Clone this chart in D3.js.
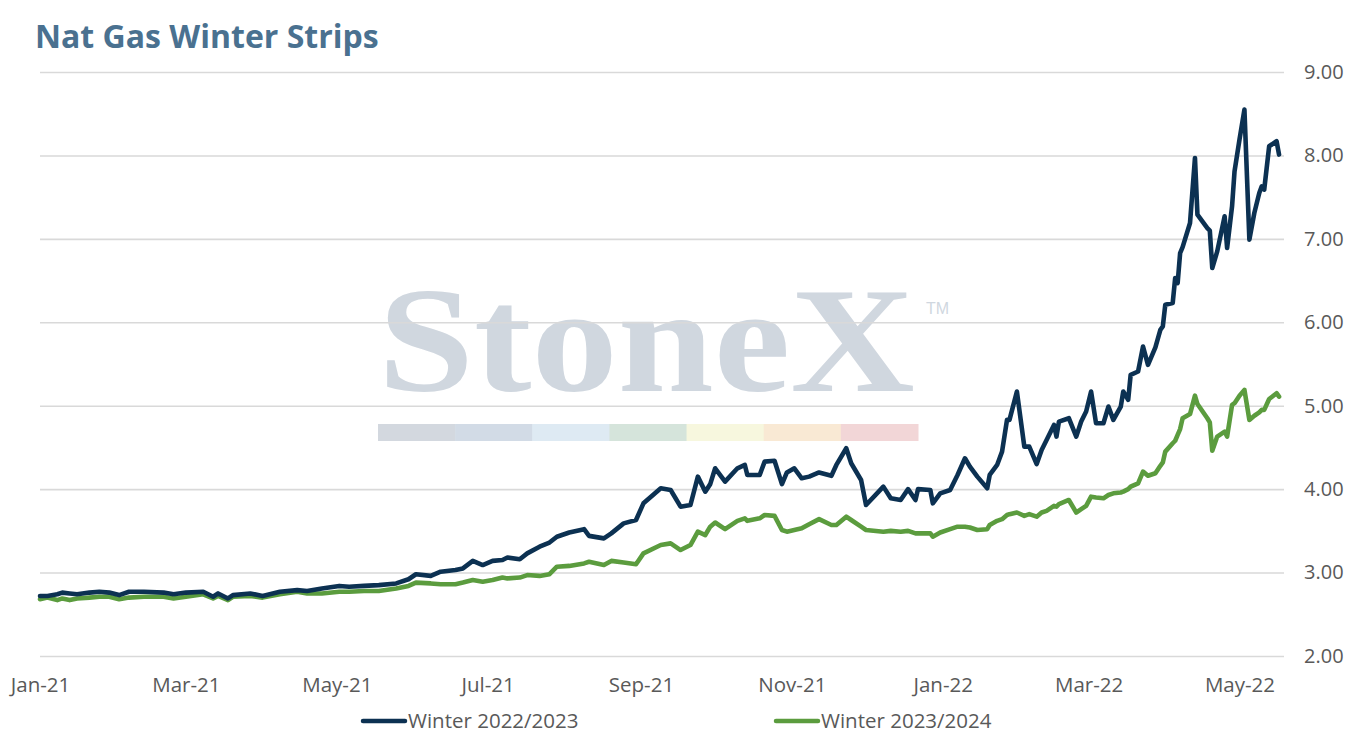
<!DOCTYPE html>
<html>
<head>
<meta charset="utf-8">
<script src="https://cdn.jsdelivr.net/npm/d3@7"></script>
<style>
  html, body { margin: 0; padding: 0; background: #ffffff; }
  svg { display: block; }
</style>
</head>
<body>
<svg id="chart" width="1351" height="743"></svg>
<script>
// ---------- DATA ----------
const dates = [
 "2021-01-01","2021-01-04","2021-01-08","2021-01-10","2021-01-13","2021-01-16","2021-01-21","2021-01-25","2021-01-29",
 "2021-02-02","2021-02-06","2021-02-12","2021-02-20","2021-02-24","2021-03-01","2021-03-08","2021-03-12","2021-03-14",
 "2021-03-18","2021-03-20","2021-03-27","2021-04-01","2021-04-08","2021-04-15","2021-04-19","2021-04-25","2021-05-02",
 "2021-05-06","2021-05-12","2021-05-18","2021-05-25","2021-05-30","2021-06-02","2021-06-08","2021-06-12","2021-06-18",
 "2021-06-21","2021-06-25","2021-06-29","2021-07-03","2021-07-07","2021-07-09","2021-07-14","2021-07-17","2021-07-22",
 "2021-07-26","2021-07-29","2021-08-03","2021-08-09","2021-08-11","2021-08-17","2021-08-20","2021-08-25","2021-08-30",
 "2021-09-02","2021-09-09","2021-09-13","2021-09-17","2021-09-21","2021-09-24","2021-09-27","2021-09-29","2021-10-01",
 "2021-10-05","2021-10-10","2021-10-13","2021-10-14","2021-10-19","2021-10-21","2021-10-25","2021-10-28","2021-10-30",
 "2021-11-02","2021-11-05","2021-11-08","2021-11-12","2021-11-17","2021-11-19","2021-11-23","2021-11-25","2021-11-29",
 "2021-12-01","2021-12-08","2021-12-11","2021-12-15","2021-12-18","2021-12-21","2021-12-22","2021-12-27","2021-12-28",
 "2021-12-31","2022-01-04","2022-01-07","2022-01-10","2022-01-12","2022-01-15","2022-01-19","2022-01-20","2022-01-23",
 "2022-01-25","2022-01-27","2022-01-28","2022-01-31","2022-02-03","2022-02-05","2022-02-08","2022-02-10","2022-02-12",
 "2022-02-15","2022-02-16","2022-02-17","2022-02-21","2022-02-24","2022-02-26","2022-02-28","2022-03-02","2022-03-04",
 "2022-03-07","2022-03-09","2022-03-11","2022-03-14","2022-03-15","2022-03-17","2022-03-18","2022-03-21","2022-03-23",
 "2022-03-25","2022-03-28","2022-03-30","2022-03-31","2022-04-01","2022-04-04","2022-04-05","2022-04-06","2022-04-07",
 "2022-04-08","2022-04-11","2022-04-13","2022-04-14","2022-04-18","2022-04-19","2022-04-20","2022-04-22","2022-04-25",
 "2022-04-26","2022-04-28","2022-04-29","2022-05-01","2022-05-03","2022-05-05","2022-05-07","2022-05-09","2022-05-10",
 "2022-05-11","2022-05-13","2022-05-16","2022-05-17"
];

const winter2223 = [
 2.72,2.72,2.74,2.76,2.75,2.74,2.76,2.77,2.76,
 2.73,2.77,2.77,2.76,2.74,2.76,2.77,2.71,2.75,
 2.69,2.73,2.75,2.72,2.77,2.79,2.78,2.81,2.84,
 2.83,2.84,2.85,2.87,2.92,2.98,2.96,3.01,3.03,
 3.05,3.14,3.09,3.14,3.15,3.18,3.16,3.23,3.31,
 3.36,3.43,3.48,3.52,3.44,3.41,3.47,3.59,3.63,
 3.83,4.01,3.99,3.79,3.81,4.15,3.97,4.06,4.25,
 4.09,4.25,4.29,4.17,4.17,4.33,4.34,4.06,4.20,
 4.25,4.13,4.15,4.20,4.16,4.29,4.49,4.31,4.11,
 3.81,4.03,3.89,3.87,4.00,3.87,4.00,3.99,3.83,
 3.95,3.99,4.17,4.37,4.27,4.15,4.01,4.17,4.29,
 4.45,4.83,4.83,5.17,4.51,4.51,4.30,4.47,4.59,
 4.77,4.63,4.81,4.85,4.63,4.81,4.93,5.17,4.79,
 4.79,4.99,4.83,4.99,5.17,5.07,5.37,5.41,5.71,
 5.49,5.70,5.91,5.95,6.21,6.23,6.53,6.47,6.83,
 6.90,7.19,7.97,7.29,7.13,7.10,6.65,6.85,7.27,
 6.89,7.39,7.81,8.19,8.55,6.99,7.31,7.55,7.63,
 7.59,8.11,8.17,8.01
];

const winter2324 = [
 2.68,2.70,2.67,2.69,2.67,2.69,2.70,2.71,2.71,
 2.68,2.70,2.71,2.71,2.69,2.71,2.74,2.69,2.72,
 2.67,2.71,2.72,2.70,2.74,2.77,2.75,2.75,2.77,
 2.77,2.78,2.78,2.81,2.84,2.88,2.87,2.86,2.86,
 2.88,2.91,2.89,2.91,2.94,2.93,2.94,2.97,2.96,
 2.98,3.07,3.08,3.11,3.13,3.09,3.14,3.12,3.10,
 3.23,3.33,3.35,3.27,3.33,3.49,3.45,3.55,3.60,
 3.52,3.62,3.65,3.62,3.65,3.69,3.68,3.51,3.49,
 3.51,3.53,3.58,3.64,3.57,3.57,3.67,3.63,3.55,
 3.51,3.49,3.50,3.49,3.50,3.47,3.47,3.47,3.43,
 3.48,3.52,3.55,3.55,3.54,3.51,3.52,3.57,3.62,
 3.64,3.69,3.70,3.72,3.68,3.70,3.67,3.72,3.74,
 3.80,3.79,3.82,3.87,3.72,3.76,3.80,3.91,3.90,
 3.89,3.93,3.95,3.96,3.97,4.00,4.03,4.07,4.21,
 4.16,4.19,4.28,4.32,4.45,4.55,4.58,4.65,4.72,
 4.85,4.90,5.12,5.02,4.85,4.80,4.46,4.63,4.69,
 4.63,5.01,5.03,5.12,5.19,4.83,4.88,4.92,4.95,
 4.95,5.08,5.15,5.11
];

const yTicks = [2, 3, 4, 5, 6, 7, 8, 9];
const xTickDates = ["2021-01-01","2021-03-01","2021-05-01","2021-07-01","2021-09-01","2021-11-01","2022-01-01","2022-03-01","2022-05-01"];
const seriesNames = ["Winter 2022/2023", "Winter 2023/2024"];
const seriesColors = ["#0c3152", "#5b9c3e"];
const xDomain = ["2021-01-01", "2022-05-19"];
const watermarkColors = ["#d3d8df","#d2dbe6","#deeaf3","#d5e4db","#f7f7de","#f9e9d4","#f2d6d7"];

// ---------- CHART ----------
const svg = d3.select("#chart");
const parse = d3.timeParse("%Y-%m-%d");
const fmt = d3.timeFormat("%b-%y");
const uiFont = "'Open Sans', Lato, sans-serif";

const x = d3.scaleTime().domain(xDomain.map(parse)).range([40, 1284]);
const y = d3.scaleLinear().domain([2, 9]).range([656, 72]);

// Watermark
const wm = svg.append("g");
wm.append("text")
  .attr("x", 378).attr("y", 391)
  .attr("textLength", 537).attr("lengthAdjust", "spacingAndGlyphs")
  .style("font-family", "'Liberation Serif','DejaVu Serif',serif")
  .style("font-weight", "700")
  .style("font-size", "150px")
  .style("fill", "#d0d7df")
  .text("StoneX");
wm.append("text")
  .attr("x", 926).attr("y", 314)
  .style("font-family", "'Liberation Sans',Arial,sans-serif")
  .style("font-size", "16px")
  .style("fill", "#d0d7df")
  .text("TM");
const bandX = d3.scaleBand().domain(d3.range(watermarkColors.length)).range([378, 918]);
wm.selectAll("rect").data(watermarkColors).join("rect")
  .attr("x", (d, i) => bandX(i)).attr("y", 424)
  .attr("width", bandX.bandwidth() + 0.5).attr("height", 17)
  .attr("fill", d => d);

// Title
svg.append("text")
  .attr("x", 35).attr("y", 48)
  .style("font-family", uiFont)
  .style("font-weight", "700")
  .style("font-size", "32px")
  .style("fill", "#4a7190")
  .text("Nat Gas Winter Strips");

// Grid + right y labels
const yAxis = d3.axisRight(y).tickValues(yTicks).tickSize(1284 - 40).tickFormat(d3.format(".2f")).tickPadding(20);
const gy = svg.append("g").attr("transform", "translate(40,0)").call(yAxis);
gy.select(".domain").remove();
gy.selectAll(".tick line").attr("stroke", "#d9d9d9").attr("stroke-width", 1.6);
gy.selectAll(".tick text")
  .style("font-family", uiFont)
  .style("font-size", "20px")
  .style("fill", "#595959");

// X axis labels
const xAxis = d3.axisBottom(x).tickValues(xTickDates.map(parse)).tickFormat(fmt).tickSize(0).tickPadding(0);
const gx = svg.append("g").attr("transform", "translate(0,692)").call(xAxis);
gx.select(".domain").remove();
gx.selectAll(".tick text")
  .attr("dy", "0")
  .style("font-family", uiFont)
  .style("font-size", "20.5px")
  .style("fill", "#595959");

// Lines
const parsedDates = dates.map(parse);
const series = [winter2324, winter2223];
const colorsOrdered = [seriesColors[1], seriesColors[0]];
series.forEach((vals, k) => {
  const line = d3.line().x((d, i) => x(parsedDates[i])).y(d => y(d));
  svg.append("path")
    .datum(vals)
    .attr("d", line)
    .attr("fill", "none")
    .attr("stroke", colorsOrdered[k])
    .attr("stroke-width", 4.6)
    .attr("stroke-linejoin", "round")
    .attr("stroke-linecap", "round");
});

// Legend
const legendX = [363, 776];
seriesNames.forEach((name, i) => {
  const g = svg.append("g").attr("transform", `translate(${legendX[i]},721)`);
  g.append("line").attr("x1", 0).attr("x2", 42).attr("y1", 0).attr("y2", 0)
    .attr("stroke", seriesColors[i]).attr("stroke-width", 4.5).attr("stroke-linecap", "round");
  g.append("text").attr("x", 45).attr("y", 7)
    .style("font-family", uiFont)
    .style("font-size", "20.5px")
    .style("fill", "#595959")
    .text(name);
});
</script>
</body>
</html>
